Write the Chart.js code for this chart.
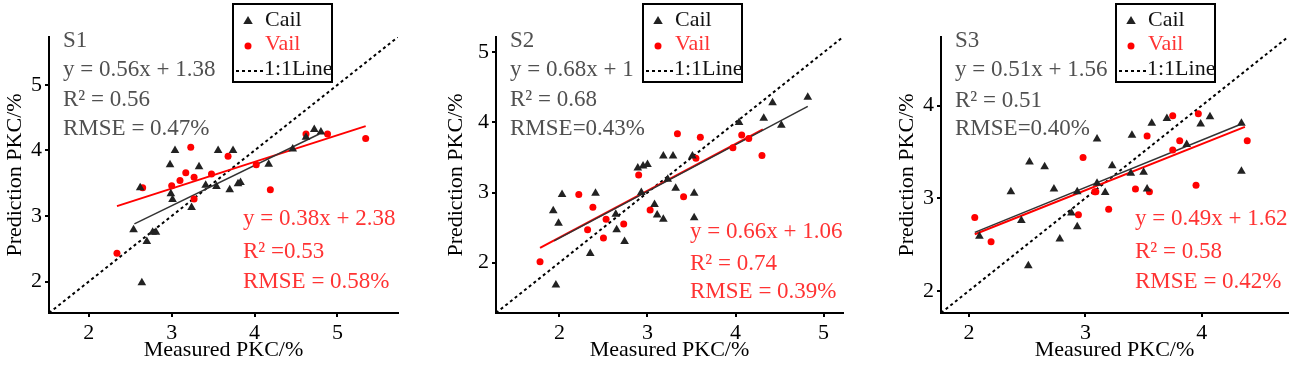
<!DOCTYPE html>
<html>
<head>
<meta charset="utf-8">
<script src="https://cdn.jsdelivr.net/npm/chart.js@4/dist/chart.umd.min.js"></script>
<style>
  body { margin: 0; background: #fff; }
  #wrap { position: relative; width: 1299px; height: 365px; }
  .panel { position: absolute; top: 0; width: 433px; height: 365px; }
</style>
</head>
<body>
<div id="wrap">
  <div class="panel" style="left:0px"><canvas id="c1" width="433" height="365"></canvas></div>
  <div class="panel" style="left:433px"><canvas id="c2" width="433" height="365"></canvas></div>
  <div class="panel" style="left:866px"><canvas id="c3" width="433" height="365"></canvas></div>
</div>
<script>
// S1
const s1CailX = [2.64, 2.54, 2.70, 2.77, 2.81, 2.62, 2.99, 3.01, 3.24, 2.98, 3.33, 3.04, 3.41, 3.54, 3.70, 3.80, 3.56, 3.74, 3.83, 4.17, 4.46, 4.62, 4.72, 4.80];
const s1CailY = [1.98, 2.79, 2.61, 2.75, 2.75, 3.43, 3.34, 3.25, 3.13, 3.78, 3.75, 4.00, 3.47, 3.45, 3.40, 3.49, 4.00, 4.00, 3.51, 3.79, 4.02, 4.20, 4.32, 4.28];
const s1VailX = [2.34, 2.65, 3.00, 3.10, 3.17, 3.27, 3.48, 3.27, 3.23, 3.68, 4.02, 4.19, 4.62, 4.88, 5.34];
const s1VailY = [2.43, 3.43, 3.46, 3.54, 3.66, 3.59, 3.64, 3.26, 4.05, 3.91, 3.78, 3.40, 4.25, 4.25, 4.18];
const s1CailFitX = [2.55, 4.78];
const s1CailFitY = [2.88, 4.25];
const s1VailFitX = [2.34, 5.34];
const s1VailFitY = [3.15, 4.37];
const s1Range = [1.52, 5.73];
const s1Ticks = [2, 3, 4, 5];

// S2
const s2CailX = [1.93, 2.03, 1.99, 1.96, 2.35, 2.41, 2.64, 2.65, 2.74, 2.89, 2.95, 3.00, 2.93, 3.08, 3.11, 3.18, 3.23, 3.32, 3.53, 3.53, 3.18, 3.29, 3.51, 4.04, 4.32, 4.42, 4.52, 4.82];
const s2CailY = [2.74, 2.97, 2.56, 1.68, 2.13, 2.99, 2.69, 2.47, 2.30, 3.35, 3.38, 3.40, 3.00, 2.83, 2.68, 2.62, 3.19, 3.06, 2.99, 2.64, 3.52, 3.52, 3.52, 4.00, 4.06, 4.28, 3.96, 4.36];
const s2VailX = [1.78, 2.22, 2.38, 2.32, 2.50, 2.53, 2.73, 2.90, 3.03, 3.41, 3.34, 3.60, 3.97, 4.07, 4.15, 4.30, 3.55];
const s2VailY = [2.01, 2.97, 2.79, 2.47, 2.35, 2.62, 2.55, 3.25, 2.75, 2.94, 3.84, 3.79, 3.64, 3.82, 3.77, 3.53, 3.49];
const s2CailFitX = [1.94, 4.82];
const s2CailFitY = [2.31, 4.23];
const s2VailFitX = [1.78, 4.31];
const s2VailFitY = [2.21, 3.90];
const s2Range = [1.28, 5.22];
const s2Ticks = [2, 3, 4, 5];

// S3
const s3CailX = [2.52, 2.65, 2.36, 2.73, 2.45, 2.09, 2.51, 2.78, 2.88, 2.93, 2.93, 3.10, 3.23, 3.39, 3.50, 3.17, 3.53, 4.34, 3.57, 3.70, 3.99, 4.07, 3.40, 3.10, 4.34, 3.87];
const s3CailY = [3.39, 3.34, 3.07, 3.10, 2.76, 2.59, 2.27, 2.56, 2.84, 2.69, 3.07, 3.16, 3.35, 3.27, 3.28, 3.06, 3.10, 3.29, 3.81, 3.86, 3.80, 3.88, 3.68, 3.64, 3.81, 3.58];
const s3VailX = [2.05, 2.19, 2.94, 2.98, 3.08, 3.09, 3.43, 3.55, 3.95, 3.20, 3.75, 3.97, 3.53, 3.81, 3.75, 4.39];
const s3VailY = [2.79, 2.53, 2.82, 3.44, 3.07, 3.07, 3.10, 3.07, 3.14, 2.88, 3.89, 3.91, 3.67, 3.62, 3.52, 3.62];
const s3CailFitX = [2.05, 4.34];
const s3CailFitY = [2.63, 3.80];
const s3VailFitX = [2.05, 4.37];
const s3VailFitY = [2.61, 3.77];
const s3Range = [1.76, 4.74];
const s3Ticks = [2, 3, 4];

const grayLines = [
  ['S1', 'y = 0.56x + 1.38', 'R\u00b2 = 0.56', 'RMSE = 0.47%'],
  ['S2', 'y = 0.68x + 1', 'R\u00b2 = 0.68', 'RMSE=0.43%'],
  ['S3', 'y = 0.51x + 1.56', 'R\u00b2 = 0.51', 'RMSE=0.40%']
];
const redLines = [
  ['y = 0.38x + 2.38', 'R\u00b2 =0.53', 'RMSE = 0.58%'],
  ['y = 0.66x + 1.06', 'R\u00b2 = 0.74', 'RMSE = 0.39%'],
  ['y = 0.49x + 1.62', 'R\u00b2 = 0.58', 'RMSE = 0.42%']
];
const legendLabels = ['Cail', 'Vail', '1:1Line'];

const FONT = "'Liberation Serif', 'Times New Roman', serif";
const GRAY = '#505050';
const RED = '#f33';

function pts(xs, ys) {
  return xs.map((x, i) => ({ x: x, y: ys[i] }));
}

function triangle(ctx, x, y, r) {
  ctx.beginPath();
  ctx.moveTo(x, y - r);
  ctx.lineTo(x + r * 0.95, y + r * 0.6);
  ctx.lineTo(x - r * 0.95, y + r * 0.6);
  ctx.closePath();
  ctx.fill();
}

const notesPlugin = {
  id: 'notes',
  afterDraw(chart, args, opts) {
    const ctx = chart.ctx;
    ctx.save();
    ctx.font = '23px ' + FONT;
    ctx.textBaseline = 'alphabetic';
    ctx.textAlign = 'left';
    ctx.fillStyle = GRAY;
    opts.gray.forEach((t, i) => ctx.fillText(t, opts.grayX, opts.grayY[i]));
    ctx.fillStyle = RED;
    opts.red.forEach((t, i) => ctx.fillText(t, opts.redX, opts.redY[i]));

    // legend box
    const lx = opts.legX, ly = 4, lw = 99, lh = 78;
    ctx.fillStyle = '#fff';
    ctx.fillRect(lx, ly, lw, lh);
    ctx.strokeStyle = '#000';
    ctx.lineWidth = 2;
    ctx.strokeRect(lx, ly, lw, lh);
    ctx.font = '22px ' + FONT;
    ctx.fillStyle = '#222';
    triangle(ctx, lx + 15, ly + 17, 5);
    ctx.fillStyle = '#111';
    ctx.fillText(legendLabels[0], lx + 32, ly + 22);
    ctx.fillStyle = 'red';
    ctx.beginPath();
    ctx.arc(lx + 15, ly + 42, 3.5, 0, Math.PI * 2);
    ctx.fill();
    ctx.fillStyle = RED;
    ctx.fillText(legendLabels[1], lx + 32, ly + 46);
    ctx.strokeStyle = '#000';
    ctx.setLineDash([3, 3]);
    ctx.beginPath();
    ctx.moveTo(lx + 3, ly + 67);
    ctx.lineTo(lx + 30, ly + 67);
    ctx.stroke();
    ctx.setLineDash([]);
    ctx.fillStyle = '#111';
    ctx.fillText(legendLabels[2], lx + 31, ly + 71);
    ctx.restore();
  }
};

function axis(range, ticks, title, fitSize, horizontal) {
  return {
    type: 'linear',
    min: range[0],
    max: range[1],
    afterBuildTicks: s => { s.ticks = ticks.map(v => ({ value: v })); },
    afterFit: s => { if (horizontal) s.height = fitSize; else s.width = fitSize; },
    grid: { drawOnChartArea: false, drawTicks: true, tickLength: 4, color: '#000', lineWidth: 2 },
    border: { display: true, color: '#000', width: 2 },
    ticks: { color: '#000', font: { family: FONT, size: 22 }, padding: 3 },
    title: { display: true, text: title, color: '#000', font: { family: FONT, size: 22 }, padding: { top: 2, bottom: 2 } }
  };
}

function makePanel(id, d, layout, notes) {
  new Chart(document.getElementById(id), {
    type: 'scatter',
    data: {
      datasets: [
        { label: 'Cail', data: pts(d.cx, d.cy), pointStyle: 'triangle', radius: 5, backgroundColor: '#222', borderColor: '#222', borderWidth: 0 },
        { label: 'Vail', data: pts(d.vx, d.vy), pointStyle: 'circle', radius: 3.5, backgroundColor: 'red', borderColor: 'red', borderWidth: 0 },
        { label: 'Cail fit', data: pts(d.cfx, d.cfy), showLine: true, pointRadius: 0, borderColor: '#333', borderWidth: 1.5 },
        { label: 'Vail fit', data: pts(d.vfx, d.vfy), showLine: true, pointRadius: 0, borderColor: 'red', borderWidth: 2 },
        { label: '1:1Line', data: pts(d.range, d.range), showLine: true, pointRadius: 0, borderColor: '#000', borderWidth: 2, borderDash: [3, 3] }
      ]
    },
    options: {
      responsive: false,
      animation: false,
      events: [],
      layout: { padding: { left: layout.padLeft, right: layout.padRight, top: 37, bottom: 0 } },
      plugins: { legend: { display: false }, tooltip: { enabled: false }, notes: notes },
      scales: {
        x: axis(d.range, d.ticks, 'Measured PKC/%', 52, true),
        y: axis(d.range, d.ticks, 'Prediction PKC/%', layout.yWidth, false)
      }
    },
    plugins: [notesPlugin]
  });
}

makePanel('c1',
  { cx: s1CailX, cy: s1CailY, vx: s1VailX, vy: s1VailY, cfx: s1CailFitX, cfy: s1CailFitY, vfx: s1VailFitX, vfy: s1VailFitY, range: s1Range, ticks: s1Ticks },
  { padLeft: 0, padRight: 35, yWidth: 49 },
  { gray: grayLines[0], grayX: 63, grayY: [47, 76, 106, 135], red: redLines[0], redX: 243, redY: [225, 258, 288], legX: 233 });

makePanel('c2',
  { cx: s2CailX, cy: s2CailY, vx: s2VailX, vy: s2VailY, cfx: s2CailFitX, cfy: s2CailFitY, vfx: s2VailFitX, vfy: s2VailFitY, range: s2Range, ticks: s2Ticks },
  { padLeft: 8, padRight: 23, yWidth: 55 },
  { gray: grayLines[1], grayX: 77, grayY: [47, 76, 106, 135], red: redLines[1], redX: 257, redY: [238, 270, 298], legX: 210 });

makePanel('c3',
  { cx: s3CailX, cy: s3CailY, vx: s3VailX, vy: s3VailY, cfx: s3CailFitX, cfy: s3CailFitY, vfx: s3VailFitX, vfy: s3VailFitY, range: s3Range, ticks: s3Ticks },
  { padLeft: 26, padRight: 11, yWidth: 49 },
  { gray: grayLines[2], grayX: 89, grayY: [47, 76, 107, 135], red: redLines[2], redX: 269, redY: [225, 258, 288], legX: 250 });
</script>
</body>
</html>
